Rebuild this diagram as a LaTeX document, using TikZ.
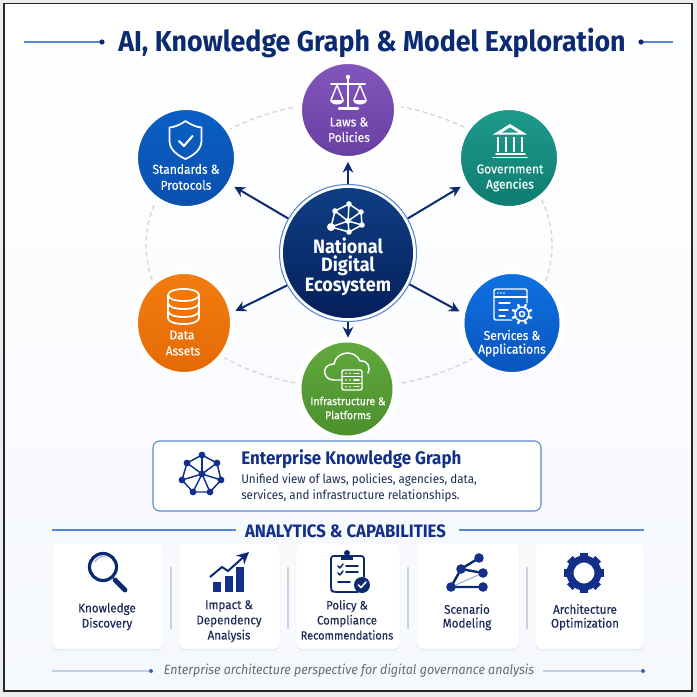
\documentclass[tikz,border=0pt]{standalone}
\usepackage{fontspec}
\setmainfont{Fira Sans}[FakeStretch=0.93]
\newfontfamily\medfont{Fira Sans}[FakeStretch=0.93,FakeBold=0.3]
\usetikzlibrary{shapes.geometric,arrows.meta,shadows,calc}
\definecolor{navy}{HTML}{0B2A6F}
\definecolor{deep}{HTML}{12308A}
\definecolor{rule}{HTML}{5B85D0}
\definecolor{ink}{HTML}{1C2B58}
\definecolor{softline}{HTML}{C3CFE3}
\definecolor{sep}{HTML}{CBD1DB}
\definecolor{pagelow}{HTML}{F5F8FD}
\definecolor{HubA}{HTML}{0F3E84}\definecolor{HubB}{HTML}{05205C}
\definecolor{LawA}{HTML}{8256BC}\definecolor{LawB}{HTML}{6A3FA2}
\definecolor{StdA}{HTML}{0A5FC4}\definecolor{StdB}{HTML}{0A50AE}
\definecolor{GovA}{HTML}{1E9A8C}\definecolor{GovB}{HTML}{0F7C70}
\definecolor{DatA}{HTML}{F27C0E}\definecolor{DatB}{HTML}{E56A06}
\definecolor{SvcA}{HTML}{1071E2}\definecolor{SvcB}{HTML}{0A54BE}
\definecolor{InfA}{HTML}{62A93E}\definecolor{InfB}{HTML}{4A8F2C}
\newcommand{\fsz}[1]{\pgfmathsetmacro{\fs}{#1*0.75}\fontsize{\fs pt}{\fs pt}\selectfont}
\newcommand{\cog}[9]{% cx cy ringR ringW toothIn toothOut toothW colour phase
  \draw[#8,line width=#4*0.75pt] (#1,#2) circle[radius=#3];
  \foreach \a in {0,45,...,315}{
    \draw[#8,line width=#7*0.75pt] ($(#1,#2)+(\a+#9:#5)$) -- ($(#1,#2)+(\a+#9:#6)$);
  }
}
\tikzset{
  sat/.style={shape=ellipse,inner sep=0pt,draw=white,line width=2.2pt,
    drop shadow={shadow xshift=0pt,shadow yshift=-1.2pt,opacity=.12,fill=black!60!blue}},
  lab/.style={text=white,align=center,inner sep=0pt,font=\medfont\fsz{12.9}},
  flow/.style={draw=navy,line width=1.5pt,-{Stealth[length=8pt,width=8pt]}},
  ico/.style={draw=white,line width=1.1pt,line join=round,line cap=round},
  navyico/.style={draw=navy,line width=1.5pt,line join=round,line cap=round},
  card/.style={draw=black!4,fill=white,rounded corners=5pt,line width=.5pt,
    drop shadow={shadow xshift=0pt,shadow yshift=-1.2pt,opacity=.22,fill=rule!70}},
  cardcap/.style={text=ink,align=center,inner sep=0pt,font=\medfont\fsz{12.5}},
  sepline/.style={draw=sep,line width=1pt},
  soft/.style={draw=softline,line width=1.1pt},
  rulebar/.style={draw=rule,line width=1pt},
  dot/.style={fill=navy,draw=none},
}
\begin{document}
\begin{tikzpicture}[x=0.75pt,y=-0.75pt]
\useasboundingbox (0,0) rectangle (697,697);
\fill[black!7] (0,0) rectangle (697,697);
\shade[top color=white,bottom color=pagelow] (4,3.5) rectangle (692,691);
\draw[black!85,line width=.8pt] (4,3.5) rectangle (692,691);

% title
\node[inner sep=0pt,text=navy] (title) at (372,43) {\fsz{28.8}\bfseries AI, Knowledge Graph \& Model Exploration};
\coordinate (tl0) at (24,42); \coordinate (tl1) at (102,42);
\coordinate (tr0) at (641,42); \coordinate (tr1) at (673,42);
\draw[rulebar] (tl0) -- (tl1); \draw[rulebar] (tr0) -- (tr1);
\fill[dot] (tl1) circle[radius=2.6]; \fill[dot] (tr0) circle[radius=2.6];

% dashed orbit, broken by a pale halo round each satellite
\draw[black!16,line width=1pt,dash pattern=on 3.5pt off 2.5pt] (349,245) ellipse [x radius=203,y radius=143];
\fill[white] (348,110) circle[radius=53];
\fill[white] (186,158) circle[radius=53];
\fill[white] (509,158) circle[radius=53];
\fill[white] (184,323) circle[radius=53];
\fill[white] (512,323) circle[radius=53];
\fill[white] (347,389) circle[radius=52];

% hub and satellites
\node[shape=circle,inner sep=0pt,minimum size=137*0.75pt,draw=rule,line width=.8pt,fill=white] (hubring) at (348,253) {};
\node[shape=circle,inner sep=0pt,minimum size=130*0.75pt,top color=HubA,bottom color=HubB] (hub) at (348,253) {};
\node[sat,minimum width=95*0.75pt,minimum height=95*0.75pt,top color=LawA,bottom color=LawB] (law) at (348,110) {};
\node[sat,minimum width=99*0.75pt,minimum height=99*0.75pt,top color=StdA,bottom color=StdB] (std) at (186,158) {};
\node[sat,minimum width=99*0.75pt,minimum height=99*0.75pt,top color=GovA,bottom color=GovB] (gov) at (509,158) {};
\node[sat,minimum width=95*0.75pt,minimum height=101*0.75pt,top color=DatA,bottom color=DatB] (dat) at (184,323) {};
\node[sat,minimum width=98*0.75pt,minimum height=101*0.75pt,top color=SvcA,bottom color=SvcB] (svc) at (512,323) {};
\node[sat,minimum width=94*0.75pt,minimum height=96*0.75pt,top color=InfA,bottom color=InfB] (inf) at (347,389) {};

% arrows
\draw[flow] (hubring.90) -- ($(law.270)+(0,3)$);
\draw[flow] (hubring.150) -- ($(std.-31)+(4.6,2.5)$);
\draw[flow] (hubring.30) -- ($(gov.211)+(-4.6,2.5)$);
\draw[flow] (hubring.208) -- ($(dat.13)+(3.5,-1)$);
\draw[flow] (hubring.-27) -- ($(svc.168)+(-3,-1)$);
\draw[flow] (hubring.270) -- ($(inf.90)+(1,-2)$);

% labels
\node[lab,font=\fsz{19.4}\bfseries] (hubA) at (348,246) {National};
\node[lab,font=\fsz{19.4}\bfseries] (hubB) at (348,266) {Digital};
\node[lab,font=\fsz{19.4}\bfseries] (hubC) at (348,287) {Ecosystem};
\node[lab] (lawA) at (349,122) {Laws \&};
\node[lab] (lawB) at (349,137) {Policies};
\node[lab] (stdA) at (186,169) {Standards \&};
\node[lab] (stdB) at (186,185) {Protocols};
\node[lab] (govA) at (510,169) {Government};
\node[lab] (govB) at (510,185) {Agencies};
\node[lab] (datA) at (182,335) {Data};
\node[lab] (datB) at (183,351) {Assets};
\node[lab] (svcA) at (512,335) {Services \&};
\node[lab] (svcB) at (512,350) {Applications};
\node[lab,font=\medfont\fsz{11.2}] (infA) at (348,401) {Infrastructure \&};
\node[lab,font=\medfont\fsz{11.2}] (infB) at (348,415) {Platforms};

% hub icon
\begin{scope}[ico]
\coordinate (h1) at (349,204); \coordinate (h2) at (335,211); \coordinate (h3) at (361,212);
\coordinate (h4) at (348,221); \coordinate (h5) at (362,225); \coordinate (h6) at (331,227); \coordinate (h7) at (349,232);
\draw (h1)--(h2)--(h6)--(h7)--(h5)--(h3)--(h1)--(h4)--(h7);
\draw (h2)--(h4)--(h3); \draw (h6)--(h4)--(h5);
\foreach \p in {h1,h2,h3,h4,h5,h7}{\fill[white] (\p) circle[radius=2.8];}
\fill[white] (h6) circle[radius=4];
\end{scope}

% shield
\begin{scope}[ico,line width=1.3pt]
\draw (185.5,121) .. controls (178,126) and (174,127) .. (169.5,127.5) -- (169.5,141)
  .. controls (170,150) and (177,155) .. (185.5,159) .. controls (194,155) and (201,150) .. (201.5,141)
  -- (201.5,127.5) .. controls (197,127) and (193,126) .. (185.5,121) -- cycle;
\draw[line width=1.6pt] (179,141) -- (184,146) -- (192.5,136);
\end{scope}

% scales
\begin{scope}[ico]
\draw[line width=1.6pt] (348,76) -- (348,107);
\fill[white] (348,77) circle[radius=2.2];
\draw[line width=1.5pt] (331,84) -- (365,84);
\draw[line width=1.8pt] (339,108.5) -- (358,108.5);
\draw (337,85) -- (331,100) (337,85) -- (343,100) (360,85) -- (354,100) (360,85) -- (366,100);
\fill[white] (330,100) -- (344,100) .. controls (343,106) and (331,106) .. (330,100) -- cycle;
\fill[white] (353,100) -- (367,100) .. controls (366,106) and (354,106) .. (353,100) -- cycle;
\end{scope}

% building
\begin{scope}[ico]
\fill[white] (510,124) -- (527,134.5) -- (493,134.5) -- cycle;
\fill[GovA] (510,127.5) -- (518,132.5) -- (502,132.5) -- cycle;
\foreach \x in {498,506,514,522}{\draw[line width=2.2pt,line cap=butt] (\x,137) -- (\x,152);}
\draw[line width=1.2pt] (496,154) -- (525,154);
\draw[line width=1.4pt] (493,157.5) -- (527,157.5);
\end{scope}

% database
\begin{scope}[ico,line width=1.3pt]
\draw (168,295) .. controls (168,287) and (199,287) .. (199,295) .. controls (199,303) and (168,303) .. (168,295) -- cycle;
\draw (168,295) -- (168,318) .. controls (168,326) and (199,326) .. (199,318) -- (199,295);
\draw (168,303) .. controls (168,311) and (199,311) .. (199,303);
\draw (168,311) .. controls (168,319) and (199,319) .. (199,311);
\end{scope}

% services window and gear
\begin{scope}[ico]
\draw[rounded corners=1.5pt] (494,289) rectangle (527,320);
\draw (494,297) -- (527,297);
\foreach \x in {498,501,504}{\fill[white] (\x,293) circle[radius=.8];}
\draw (499,303) -- (510,303) (499,310) -- (508,310) (499,316) -- (505,316);
\fill[SvcA!70!SvcB] (522,314) circle[radius=12];
\cog{522}{314}{7}{1.4}{7}{10}{2.4}{white}{22.5}
\draw (522,314) circle[radius=2.6];
\end{scope}

% cloud and server
\begin{scope}[ico]
\draw (342,380) -- (334,380) .. controls (322,380) and (321,364) .. (334,364)
  .. controls (336,351) and (355,349) .. (360,361) .. controls (368,360) and (371,368) .. (368,373);
\fill[InfA!60!InfB] (342,370) rectangle (362,390);
\draw[rounded corners=1pt] (342,370) rectangle (362,390);
\draw (342,376.5) -- (362,376.5) (342,383.5) -- (362,383.5);
\foreach \y in {373.3,380,386.7}{\fill[white] (346,\y) circle[radius=.9]; \fill[white] (350,\y) circle[radius=.9];\draw (354,\y) -- (359,\y);}
\end{scope}

% enterprise knowledge graph panel
\node[draw=rule,line width=.8pt,fill=white,rounded corners=5pt,minimum width=388*0.75pt,minimum height=70*0.75pt,inner sep=0pt] (ekg) at (347,476) {};
\node[anchor=west,inner sep=0pt,text=deep,font=\fsz{18.2}\bfseries] (ekgT) at (241,459.5) {Enterprise Knowledge Graph};
\node[anchor=west,inner sep=0pt,text=ink,font=\fsz{12.5}] (ekgA) at (241,480) {Unified view of laws, policies, agencies, data,};
\node[anchor=west,inner sep=0pt,text=ink,font=\fsz{12.5}] (ekgB) at (241,496) {services, and infrastructure relationships.};
\begin{scope}[draw=deep,line width=1.1pt]
\coordinate (g0) at (202,474);
\coordinate (g1) at (202,455); \coordinate (g2) at (217,463); \coordinate (g3) at (221,480);
\coordinate (g4) at (210,492); \coordinate (g5) at (193,492); \coordinate (g6) at (182,480); \coordinate (g7) at (187,463);
\draw[deep] (g1)--(g2)--(g3)--(g4)--(g5)--(g6)--(g7)--cycle;
\foreach \p in {g1,g2,g3,g4,g5,g6,g7}{\draw[deep] (g0)--(\p);}
\foreach \p in {g0,g1,g2,g3,g4,g5,g6,g7}{\fill[deep] (\p) circle[radius=3.4];}
\end{scope}

% section heading
\node[inner sep=0pt,text=deep,font=\fsz{18}\bfseries] (sec) at (345.5,531.5) {ANALYTICS \& CAPABILITIES};
\coordinate (sl) at (52,530); \coordinate (sr) at (644,530);
\draw[rulebar] (sl) -- (236,530); \draw[rulebar] (459,530) -- (sr);

% cards
\node[card,minimum width=111*0.75pt,minimum height=106*0.75pt,inner sep=0pt] (c1) at (107.5,596) {};
\node[card,minimum width=101*0.75pt,minimum height=106*0.75pt,inner sep=0pt] (c2) at (229.5,596) {};
\node[card,minimum width=104*0.75pt,minimum height=106*0.75pt,inner sep=0pt] (c3) at (348,596) {};
\node[card,minimum width=102*0.75pt,minimum height=106*0.75pt,inner sep=0pt] (c4) at (468,596) {};
\node[card,minimum width=109*0.75pt,minimum height=106*0.75pt,inner sep=0pt] (c5) at (589.5,596) {};
\foreach \x in {171,288,408,527}{\draw[sepline] (\x,567) -- (\x,629);}

\node[cardcap] (c1a) at (107,609) {Knowledge};
\node[cardcap] (c1b) at (107,624) {Discovery};
\node[cardcap] (c2a) at (229,606) {Impact \&};
\node[cardcap] (c2b) at (229,621) {Dependency};
\node[cardcap] (c2c) at (229,636) {Analysis};
\node[cardcap,font=\medfont\fsz{12.2}] (c3a) at (347,606) {Policy \&};
\node[cardcap,font=\medfont\fsz{12.2}] (c3b) at (347,621) {Compliance};
\node[cardcap,font=\medfont\fsz{11.8}] (c3c) at (347,635) {Recommendations};
\node[cardcap] (c4a) at (467,609) {Scenario};
\node[cardcap] (c4b) at (467,624) {Modeling};
\node[cardcap] (c5a) at (585,609) {Architecture};
\node[cardcap] (c5b) at (585,624) {Optimization};

% magnifier
\draw[navy,line width=2.4pt] (103,567) circle[radius=13.5];
\draw[rule!60,line width=1pt] (95,562) .. controls (97,558) and (101,556) .. (106,556);
\draw[navy,line width=3.6pt,line cap=round] (115,580) -- (125,590);

% chart
\fill[deep] (213,582) rectangle (221,592);
\fill[deep] (225,576) rectangle (233,592);
\fill[deep] (236,567) rectangle (244,592);
\draw[navy,line width=1.5pt,line join=round,-{Stealth[length=9pt,width=9pt]}] (210,577) -- (222,567) -- (228,571) -- (249,552);

% clipboard
\begin{scope}[navyico,line width=1.3pt]
\draw[rounded corners=2pt] (358,592) -- (333,592) -- (331,590) -- (331,556) -- (364,556) -- (364,577);
\fill[navy] (341,555) rectangle (353,559.5);
\fill[navy] (347,553) circle[radius=3];
\draw[line width=1.1pt] (338,566) -- (340,568) -- (343,564);
\draw[line width=1.1pt] (338,573) -- (340,575) -- (343,571);
\draw (346,566) -- (358,566) (346,572) -- (358,572) (338,582) -- (350,582);
\fill[navy] (362,585) circle[radius=8];
\draw[white,line width=1.2pt] (358.5,585) -- (361,587.5) -- (366,582);
\end{scope}

% scenario network
\coordinate (n1) at (479,558); \coordinate (n2) at (461,569); \coordinate (n3) at (483,573);
\coordinate (n4) at (451,587); \coordinate (n5) at (483,587);
\draw[rule!70,line width=.7pt] (n4)--(n3);
\draw[navy,line width=1.8pt] (n4)--(n2)--(n1) (n2)--(n3) (n4)--(n5);
\foreach \p in {n1,n2,n3,n4,n5}{\fill[deep] (\p) circle[radius=4.8];}

% large gear
\cog{584}{573}{14}{7}{14}{20}{8}{deep}{0}

% footer
\node[inner sep=0pt,text=black!58,font=\fsz{13.4}\itshape] (foot) at (349,671) {Enterprise architecture perspective for digital governance analysis};
\coordinate (fl0) at (52,671); \coordinate (fl1) at (151,671);
\coordinate (fr0) at (543,671); \coordinate (fr1) at (643,671);
\draw[soft] (fl0) -- (fl1); \draw[soft] (fr0) -- (fr1);
\fill[rule!60!deep] (fl1) circle[radius=2]; \fill[rule!60!deep] (fr1) circle[radius=2];
\end{tikzpicture}
\end{document}
